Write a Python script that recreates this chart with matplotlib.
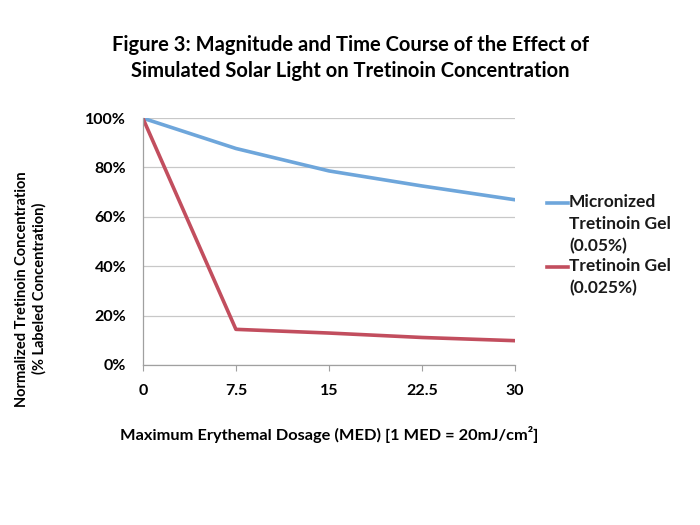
import matplotlib
matplotlib.use("Agg")
import matplotlib.pyplot as plt
from matplotlib.lines import Line2D
from matplotlib.ticker import FuncFormatter

x_labels = ["0", "7.5", "15", "22.5", "30"]
x_vals = [0, 7.5, 15, 22.5, 30]
micronized = [100, 87.7, 78.6, 72.5, 66.9]
tretinoin = [100, 14.4, 12.9, 11.1, 9.8]
series_names = ["Micronized\nTretinoin Gel\n(0.05%)", "Tretinoin Gel\n(0.025%)"]
y_ticks = [0, 20, 40, 60, 80, 100]

plt.rcParams['font.family'] = ['Lato', 'DejaVu Sans']

fig = plt.figure(figsize=(7, 5.25), dpi=100)
ax = fig.add_axes([0.204, 0.305, 0.532, 0.470])

blue = "#6EA6DB"
red = "#C24E5E"
colors = [blue, red]
ax.plot(x_vals, micronized, color=blue, lw=2.6, solid_capstyle='butt')
ax.plot(x_vals, tretinoin, color=red, lw=2.6, solid_capstyle='butt')

ax.set_xlim(0, 30)
ax.set_ylim(0, 100)
ax.set_xticks(x_vals)
ax.set_xticklabels(x_labels)
ax.set_yticks(y_ticks)
ax.yaxis.set_major_formatter(FuncFormatter(lambda v, p: f"{int(v)}%"))
ax.grid(axis='y', color='#c8c8c8', lw=0.9)
ax.set_axisbelow(True)
for s in ['top', 'right']:
    ax.spines[s].set_visible(False)
for s in ['left', 'bottom']:
    ax.spines[s].set_color('#a0a0a0')
    ax.spines[s].set_linewidth(0.9)
ax.tick_params(axis='x', direction='out', length=4, color='#a0a0a0', pad=10)
ax.tick_params(axis='y', length=0, pad=12)
for lab in ax.get_xticklabels() + ax.get_yticklabels():
    lab.set_fontweight('bold')
    lab.set_fontsize(11.5)

ax.set_xlabel("Maximum Erythemal Dosage (MED) [1 MED = 20mJ/cm²]", fontsize=11.8,
              fontweight='bold', labelpad=20)
fig.text(0.044, 0.45, "Normalized Tretinoin Concentration\n(% Labeled Concentration)",
         rotation=90, ha='center', va='center', fontsize=10.5, fontweight='bold',
         linespacing=1.3)

fig.text(0.5, 0.889, "Figure 3: Magnitude and Time Course of the Effect of\nSimulated Solar Light on Tretinoin Concentration",
         ha='center', va='center', fontsize=14.5, fontweight='bold', linespacing=1.35)

# legend drawn manually: handle aligned with first line of each label
leg_top = [1 - 203 / 525, 1 - 267 / 525]
for name, c, yy in zip(series_names, colors, leg_top):
    fig.add_artist(Line2D([547 / 700, 568 / 700], [yy, yy], color=c, lw=2.6,
                          transform=fig.transFigure))
    fig.text(569 / 700, yy + 9 / 525, name, ha='left', va='top', fontsize=12.5,
             fontweight='bold', color='#1a1a1a', linespacing=1.47)

fig.savefig("out.png", dpi=100, facecolor='white')
